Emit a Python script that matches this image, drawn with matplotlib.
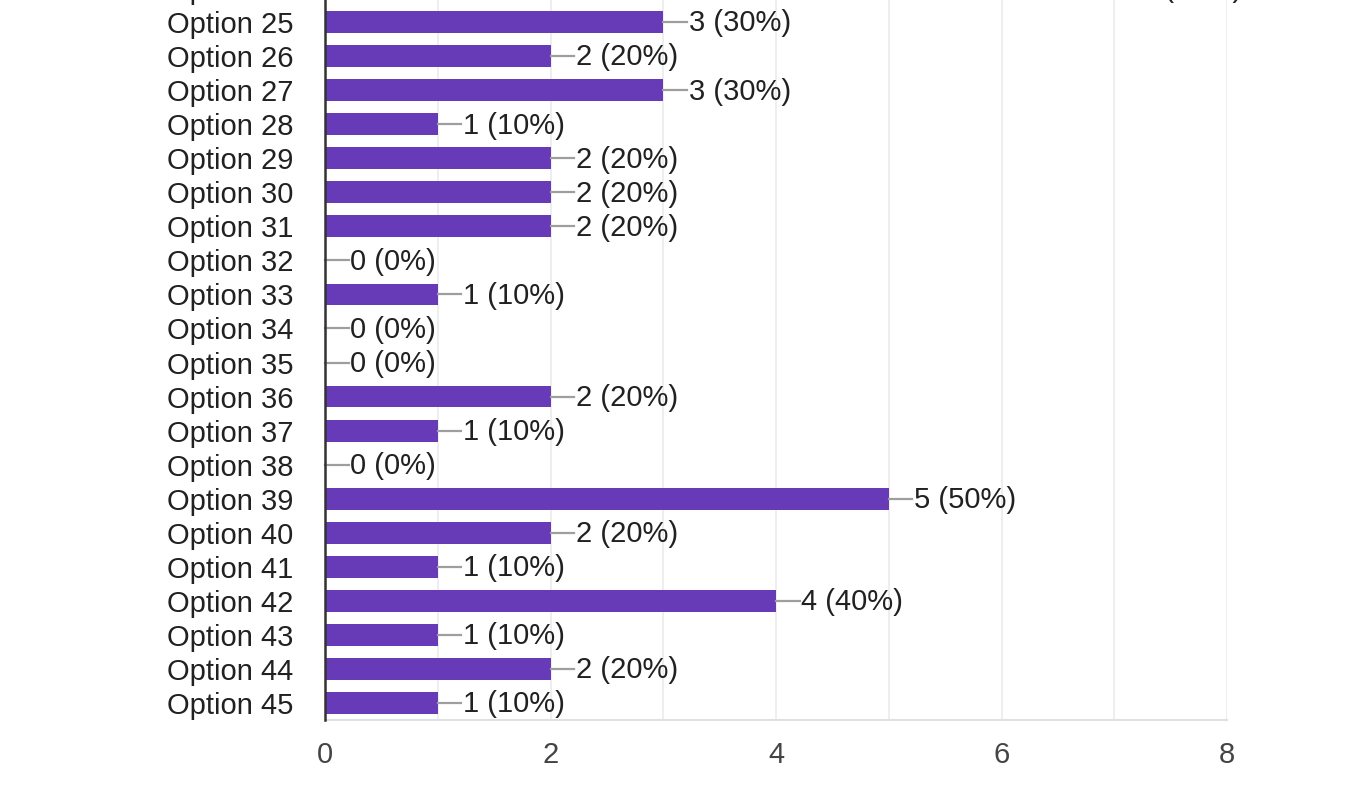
import matplotlib
matplotlib.use("Agg")
import matplotlib.pyplot as plt
from matplotlib.ticker import MultipleLocator

categories = [f"Option {i}" for i in range(24, 46)]
values = [7, 3, 2, 3, 1, 2, 2, 2, 0, 1, 0, 0, 2, 1, 0, 5, 2, 1, 4, 1, 2, 1]
total = 10
xticks = [0, 2, 4, 6, 8]

plt.rcParams['font.family'] = ['Liberation Sans', 'DejaVu Sans']

W, H = 1368, 806
fig = plt.figure(figsize=(W / 100, H / 100), dpi=100)
fig.patch.set_facecolor('white')

left_px, right_px = 325, 1227
bottom_px = 720
top_px = -29
ax = fig.add_axes([left_px / W, (H - bottom_px) / H,
                   (right_px - left_px) / W, (bottom_px - top_px) / H])

ys = list(range(len(categories)))
ax.barh(ys, values, height=0.64, color='#673ab7', zorder=3)

for y, v in zip(ys, values):
    ax.plot([v, v + 0.21], [y, y], color='#9e9e9e', lw=1.6, zorder=4, clip_on=False)
    ax.text(v + 0.225, y + 0.04, f"{v} ({round(v * 100 / total)}%)", va='center', ha='left',
            fontsize=21, color='#212121', clip_on=False)

ax.set_ylim(len(categories) - 0.5, -0.5)
ax.set_xlim(0, 8)
ax.set_yticks(ys)
ax.set_yticklabels(categories, fontsize=21, color='#212121')
ax.set_xticks(xticks)
ax.set_xticklabels([str(t) for t in xticks], fontsize=21, color='#444444')
ax.xaxis.set_minor_locator(MultipleLocator(1))
ax.grid(axis='x', which='both', color='#ebebeb', lw=1.2, zorder=0)
ax.tick_params(axis='y', length=0, pad=23)
ax.tick_params(axis='x', which='both', length=0, pad=15)

for s in ['top', 'right']:
    ax.spines[s].set_visible(False)
ax.spines['left'].set_color('#333333')
ax.spines['left'].set_linewidth(1.8)
ax.spines['left'].set_zorder(5)
ax.spines['bottom'].set_color('#e0e0e0')
ax.spines['bottom'].set_linewidth(1.5)

fig.savefig('out.png', dpi=100, facecolor='white')
